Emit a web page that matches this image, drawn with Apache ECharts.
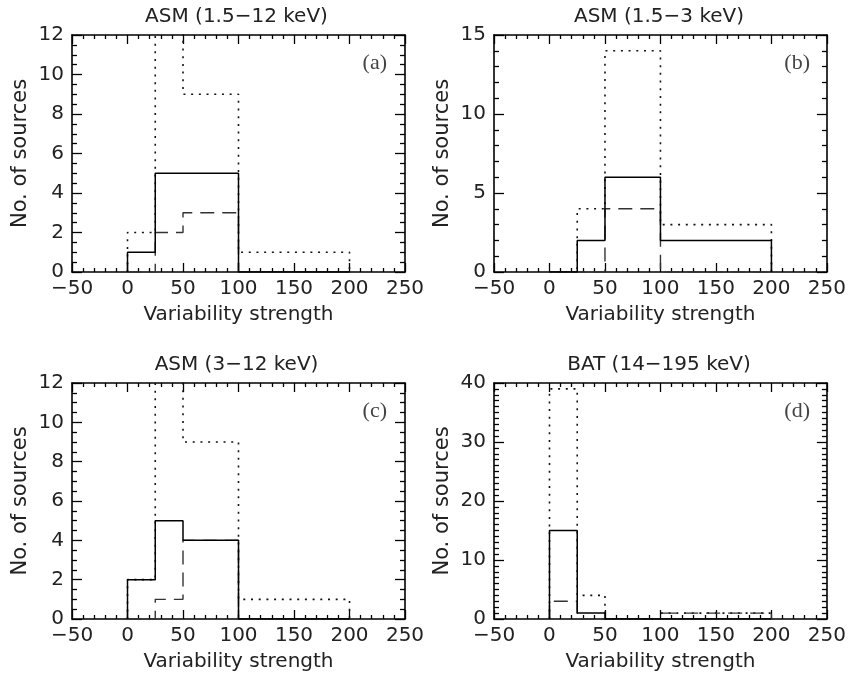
<!DOCTYPE html>
<html>
<head>
<meta charset="utf-8">
<script src="https://cdn.jsdelivr.net/npm/echarts@6/dist/echarts.min.js"></script>
<style>
html, body { margin: 0; padding: 0; background: #fff; }
#chart { width: 849px; height: 679px; }
</style>
</head>
<body>
<div id="chart"></div>
<script>
// bin edges shared by all four histograms (variability strength)
const binEdges = [0, 25, 50, 100, 200]

// counts per bin: solid / dashed / dotted histograms for each panel
// dotted 25-50 bin in (a) and (c) runs off the top of the plot
const solidA = [1, 5, 5, 0]
const dashedA = [0, 2, 3, 0]
const dottedA = [2, 14, 9, 1]

const solidB = [0, 2, 6, 2]
const dashedB = [0, 0, 4, 0]
const dottedB = [0, 4, 14, 3]

const solidC = [2, 5, 4, 0]
const dashedC = [0, 1, 4, 0]
const dottedC = [2, 14, 9, 1]

const solidD = [15, 1, 0, 0]
const dashedD = [3, 0, 0, 1]
const dottedD = [39, 4, 0, 1]

const panelTitles = ['ASM (1.5\u221212 keV)', 'ASM (1.5\u22123 keV)', 'ASM (3\u221212 keV)', 'BAT (14\u2212195 keV)']
const panelLetters = ['(a)', '(b)', '(c)', '(d)']
const yMax = [12, 15, 12, 40]
const yStep = [2, 5, 2, 10]
const yMinorSplit = [4, 5, 4, 10]

const xMin = -50
const xMax = 250
const xStep = 50

const solids = [solidA, solidB, solidC, solidD]
const dashes = [dashedA, dashedB, dashedC, dashedD]
const dots = [dottedA, dottedB, dottedC, dottedD]

// plot boxes in pixels
const boxes = [
    { left: 72, top: 35, width: 333, height: 237 },
    { left: 494, top: 35, width: 334, height: 237 },
    { left: 72, top: 383, width: 333, height: 236 },
    { left: 494, top: 383, width: 334, height: 236 }
]

const FONT = 'DejaVu Sans'
const TXT = '#222'

// histogram outline as a polyline through the bin edges
function stepPoints(edges, counts) {
    const pts = [[edges[0], 0]]
    for (let i = 0; i < counts.length; i++) {
        pts.push([edges[i], counts[i]])
        pts.push([edges[i + 1], counts[i]])
    }
    pts.push([edges[edges.length - 1], 0])
    return pts
}

function minusFmt(v) {
    return v < 0 ? '\u2212' + (-v) : String(v)
}

const grids = []
const xAxes = []
const yAxes = []
const series = []
const graphics = []

boxes.forEach((b, i) => {
    grids.push({
        left: b.left, top: b.top, width: b.width, height: b.height,
        show: false, containLabel: false
    })

    const tickLine = { color: '#000', width: 1.3 }

    // bottom axis with labels, top axis only for the mirrored ticks
    xAxes.push({
        gridIndex: i, type: 'value', position: 'bottom',
        min: xMin, max: xMax, interval: xStep,
        axisLine: { show: true, onZero: false, lineStyle: { color: '#000', width: 1.6 } },
        axisTick: { show: true, inside: true, length: 9, lineStyle: tickLine },
        minorTick: { show: true, splitNumber: 5, length: 4, lineStyle: tickLine },
        splitLine: { show: false },
        axisLabel: { fontFamily: FONT, fontSize: 20, color: TXT, margin: 7, formatter: minusFmt },
        name: 'Variability strength', nameLocation: 'middle', nameGap: 33,
        nameTextStyle: { fontFamily: FONT, fontSize: 20, color: TXT }
    })
    xAxes.push({
        gridIndex: i, type: 'value', position: 'top',
        min: xMin, max: xMax, interval: xStep,
        axisLine: { show: true, onZero: false, lineStyle: { color: '#000', width: 1.6 } },
        axisTick: { show: true, inside: true, length: 9, lineStyle: tickLine },
        minorTick: { show: true, splitNumber: 5, length: 4, lineStyle: tickLine },
        splitLine: { show: false },
        axisLabel: { show: false }
    })

    yAxes.push({
        gridIndex: i, type: 'value', position: 'left',
        min: 0, max: yMax[i], interval: yStep[i],
        axisLine: { show: true, onZero: false, lineStyle: { color: '#000', width: 1.6 } },
        axisTick: { show: true, inside: true, length: 10, lineStyle: tickLine },
        minorTick: { show: true, splitNumber: yMinorSplit[i], length: 5, lineStyle: tickLine },
        splitLine: { show: false },
        axisLabel: { fontFamily: FONT, fontSize: 20, color: TXT, margin: 8 },
        name: 'No. of sources', nameLocation: 'middle', nameGap: 41,
        nameTextStyle: { fontFamily: FONT, fontSize: 21, color: TXT }
    })
    yAxes.push({
        gridIndex: i, type: 'value', position: 'right',
        min: 0, max: yMax[i], interval: yStep[i],
        axisLine: { show: true, onZero: false, lineStyle: { color: '#000', width: 1.6 } },
        axisTick: { show: true, inside: true, length: 10, lineStyle: tickLine },
        minorTick: { show: true, splitNumber: yMinorSplit[i], length: 5, lineStyle: tickLine },
        splitLine: { show: false },
        axisLabel: { show: false }
    })

    const common = {
        type: 'line', xAxisIndex: 2 * i, yAxisIndex: 2 * i,
        symbol: 'none', showSymbol: false, clip: true, silent: true
    }
    series.push(Object.assign({}, common, {
        data: stepPoints(binEdges, dots[i]), z: 2,
        lineStyle: { color: '#111', width: 1.6, type: [2, 5.7] }
    }))
    series.push(Object.assign({}, common, {
        data: stepPoints(binEdges, dashes[i]), z: 3,
        lineStyle: { color: '#333', width: 1.4, type: [14, 8] }
    }))
    series.push(Object.assign({}, common, {
        data: stepPoints(binEdges, solids[i]), z: 4,
        lineStyle: { color: '#000', width: 1.5 }
    }))

    // panel title above the box and letter in the upper right corner
    graphics.push({
        type: 'text', x: b.left + b.width / 2 - 2, y: b.top - 18,
        style: { text: panelTitles[i], font: '20px ' + FONT, fill: TXT, align: 'center', verticalAlign: 'middle' }
    })
    graphics.push({
        type: 'text', x: b.left + b.width - 18, y: b.top + 28,
        style: { text: panelLetters[i], font: '22px "Liberation Serif"', fill: '#444', align: 'right', verticalAlign: 'middle' }
    })
})

const chart = echarts.init(document.getElementById('chart'), null, { renderer: 'canvas' })
chart.setOption({
    animation: false,
    backgroundColor: '#fff',
    grid: grids,
    xAxis: xAxes,
    yAxis: yAxes,
    series: series,
    graphic: graphics
})
</script>
</body>
</html>
